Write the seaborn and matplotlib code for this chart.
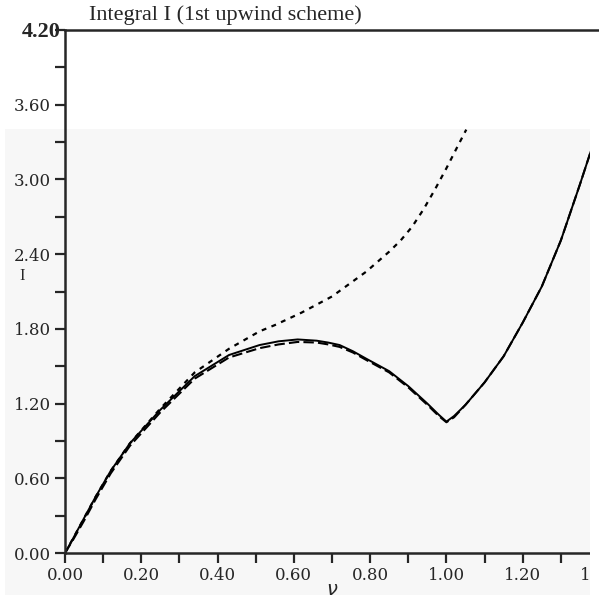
import numpy as np
import pandas as pd
import seaborn as sns
import matplotlib.pyplot as plt
from matplotlib.patches import Rectangle
from matplotlib.ticker import MultipleLocator

# values
nu = [0.0, 0.02, 0.05, 0.08, 0.12, 0.17, 0.25, 0.34, 0.43, 0.51, 0.56, 0.61,
      0.66, 0.69, 0.72, 0.755, 0.79, 0.85, 0.90, 0.95, 0.98, 1.00, 1.02, 1.05,
      1.10, 1.15, 1.20, 1.25, 1.30, 1.35, 1.38]
I_solid = [0.0, 0.11, 0.28, 0.45, 0.66, 0.88, 1.15, 1.42, 1.59, 1.67, 1.70, 1.715,
           1.705, 1.69, 1.67, 1.62, 1.56, 1.46, 1.34, 1.20, 1.11, 1.055, 1.10, 1.19,
           1.37, 1.58, 1.85, 2.14, 2.51, 2.96, 3.24]
I_dashed = [0.0, 0.10, 0.26, 0.43, 0.64, 0.86, 1.13, 1.40, 1.57, 1.645, 1.675, 1.695,
            1.69, 1.675, 1.655, 1.61, 1.55, 1.45, 1.33, 1.19, 1.10, 1.05, 1.09, 1.19,
            1.37, 1.58, 1.85, 2.14, 2.51, 2.96, 3.24]
nu_dot = [0.0, 0.02, 0.05, 0.08, 0.12, 0.17, 0.25, 0.34, 0.43, 0.51, 0.55, 0.62,
          0.70, 0.79, 0.85, 0.88, 0.91, 0.94, 0.97, 1.00, 1.03, 1.052]
I_dot = [0.0, 0.11, 0.28, 0.45, 0.66, 0.88, 1.16, 1.45, 1.64, 1.78, 1.83, 1.93,
         2.06, 2.26, 2.42, 2.51, 2.62, 2.76, 2.92, 3.09, 3.27, 3.40]

y_ticks = [0.0, 0.6, 1.2, 1.8, 2.4, 3.0, 3.6]
x_ticks = [0.0, 0.2, 0.4, 0.6, 0.8, 1.0, 1.2, 1.4]

sns.set_style("ticks")
plt.rcParams['font.family'] = ['DejaVu Serif']

fig = plt.figure(figsize=(5.99, 5.95), dpi=100)
# grey scanned page area, drawn behind the axes
fig.add_artist(Rectangle((5 / 599, 0), 585 / 599, 466 / 595, transform=fig.transFigure,
                         facecolor='#f7f7f7', edgecolor='none', zorder=-5))
ax = fig.add_axes([65 / 599, 42 / 595, 534 / 599, 523 / 595])
ax.set_facecolor('none')

df_a = pd.DataFrame({'nu': nu, 'I': I_solid})
df_b = pd.DataFrame({'nu': nu, 'I': I_dashed})
df_c = pd.DataFrame({'nu': nu_dot, 'I': I_dot})

sns.lineplot(data=df_a, x='nu', y='I', ax=ax, color='black', lw=1.4, sort=False)
sns.lineplot(data=df_b, x='nu', y='I', ax=ax, color='black', lw=1.5, sort=False)
ax.lines[-1].set_dashes((5, 2))
sns.lineplot(data=df_c, x='nu', y='I', ax=ax, color='black', lw=1.6, sort=False)
ax.lines[-1].set_dashes((2.2, 2.5))

ax.set_xlim(0, 1.4)
ax.set_ylim(0, 4.2)
ax.set_yticks(y_ticks)
ax.set_yticklabels([f"{v:.2f}" for v in y_ticks])
ax.set_xticks(x_ticks)
ax.set_xticklabels([f"{v:.2f}" for v in x_ticks])
ax.xaxis.set_minor_locator(MultipleLocator(0.1))
ax.yaxis.set_minor_locator(MultipleLocator(0.3))
ax.tick_params(which='both', direction='out', length=7, width=1.6, labelsize=12, pad=3)
ax.spines['right'].set_visible(False)
for s in ['left', 'bottom', 'top']:
    ax.spines[s].set_linewidth(1.8)

ax.set_xlabel(r'$\nu$', fontsize=14, labelpad=-2)
ax.set_ylabel('I', fontsize=12, rotation=0, family='Liberation Serif')
ax.yaxis.set_label_coords(-0.08, 0.515)

# the scan is cut off at the right edge of the grey page
fig.add_artist(Rectangle((590 / 599, 0), 9 / 599, 466 / 595, transform=fig.transFigure,
                         facecolor='white', edgecolor='none', zorder=10))

fig.text(61 / 599, 1 - 32 / 595, '4.20', ha='right', va='center', fontsize=16,
         fontweight='bold', family='Liberation Serif')
fig.text(225 / 599, 1 - 15 / 595, 'Integral I (1st upwind scheme)', ha='center',
         va='center', fontsize=16, family='Liberation Serif')

fig.savefig('out.png', dpi=100)
